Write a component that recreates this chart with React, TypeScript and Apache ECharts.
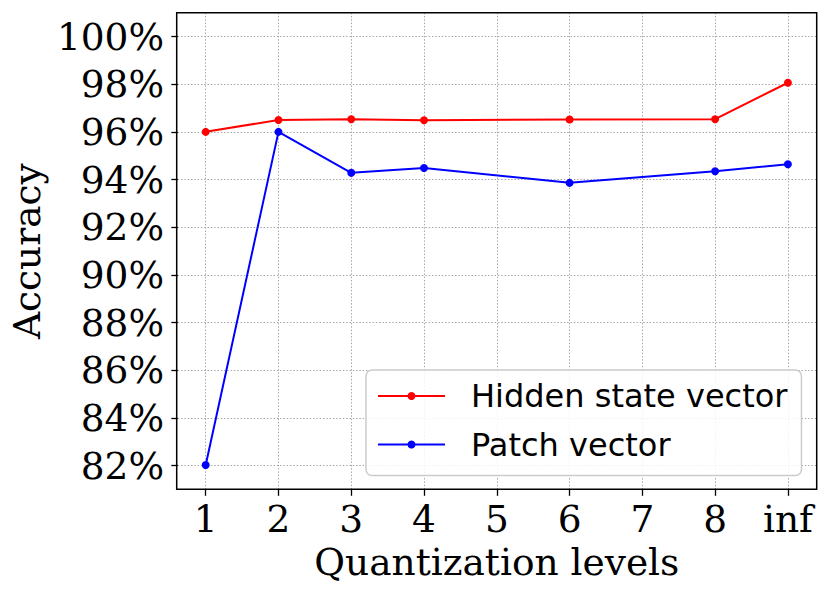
import React, { useEffect, useRef } from "react";
import * as echarts from "echarts";

const xLabels = ["1", "2", "3", "4", "5", "6", "7", "8", "inf"];
const measuredLevels = ["1", "2", "3", "4", "6", "8", "inf"];
const hiddenState = [96.0, 96.5, 96.53, 96.49, 96.52, 96.53, 98.06];
const patchVector = [82.02, 96.0, 94.28, 94.48, 93.86, 94.35, 94.64];
const yTickMin = 82;
const yTickMax = 100;
const yStep = 2;
const yRangeMin = 81;
const yRangeMax = 101;

const serif = "DejaVu Serif";
const serifSize = 37.5;

export default function App() {
  const ref = useRef<HTMLDivElement>(null);
  useEffect(() => {
    if (!ref.current) return;
    const chart = echarts.init(ref.current, null, { renderer: "svg" });
    const pos = measuredLevels.map((l) => xLabels.indexOf(l));
    const grid = {
      color: "#a8a8a8",
      type: [1.5, 1.8] as any,
      width: 1,
    };
    const tick = { lineStyle: { color: "#000", width: 1.3 }, length: 6.5 };
    chart.setOption({
      animation: false,
      backgroundColor: "#fff",
      grid: [
        { left: 205.7, right: 42.1, top: 12.7, bottom: 106.7 },
        { left: 176.7, right: 13.3, top: 36.7, bottom: 130.4 },
      ],
      xAxis: [
        {
          gridIndex: 0,
          type: "value",
          min: 0,
          max: xLabels.length - 1,
          interval: 1,
          position: "bottom",
          axisLine: { show: false },
          axisTick: { show: true, ...tick },
          axisLabel: {
            formatter: (v: number) => xLabels[Math.round(v)] ?? "",
            fontFamily: serif,
            fontSize: serifSize,
            color: "#000",
            margin: 10.5,
          },
          splitLine: { show: true, lineStyle: grid },
          name: "Quantization levels",
          nameLocation: "middle",
          nameGap: 50,
          nameTextStyle: { fontFamily: serif, fontSize: serifSize, color: "#000" },
        },
        {
          gridIndex: 1,
          type: "value",
          min: 0,
          max: 1,
          show: false,
        },
      ],
      yAxis: [
        {
          gridIndex: 0,
          type: "value",
          min: yRangeMin,
          max: yRangeMax,
          show: false,
          splitLine: { show: false },
        },
        {
          gridIndex: 1,
          type: "value",
          min: yTickMin,
          max: yTickMax,
          interval: yStep,
          position: "left",
          axisLine: { show: false },
          axisTick: { show: true, ...tick },
          axisLabel: {
            formatter: "{value}%",
            fontFamily: serif,
            fontSize: serifSize,
            color: "#000",
            margin: 13.7,
          },
          splitLine: { show: true, lineStyle: grid },
          name: "Accuracy",
          nameLocation: "middle",
          nameGap: 131,
          nameTextStyle: { fontFamily: serif, fontSize: serifSize, color: "#000" },
        },
      ],
      legend: {
        orient: "vertical",
        left: 366,
        top: 370,
        padding: [8, 14, 13, 11],
        itemWidth: 67,
        itemHeight: 10,
        itemGap: 12.5,
        backgroundColor: "rgba(255,255,255,0.85)",
        borderColor: "#cccccc",
        borderWidth: 1.5,
        borderRadius: 6,
        textStyle: {
          fontFamily: "DejaVu Sans",
          fontSize: 32,
          color: "#000",
          lineHeight: 36,
          padding: [0, 0, 0, 21],
        },
        data: ["Hidden state vector", "Patch vector"],
      },
      graphic: [
        {
          type: "rect",
          shape: { x: 176.7, y: 12.7, width: 640, height: 476.6 },
          style: { fill: "none", stroke: "#000", lineWidth: 1.5 },
          z: 100,
          silent: true,
        },
      ],
      series: [
        {
          name: "Hidden state vector",
          type: "line",
          xAxisIndex: 0,
          yAxisIndex: 0,
          data: pos.map((p, i) => [p, hiddenState[i]]),
          color: "#ff0000",
          symbol: "circle",
          symbolSize: 8,
          lineStyle: { width: 2 },
        },
        {
          name: "Patch vector",
          type: "line",
          xAxisIndex: 0,
          yAxisIndex: 0,
          data: pos.map((p, i) => [p, patchVector[i]]),
          color: "#0000ff",
          symbol: "circle",
          symbolSize: 8,
          lineStyle: { width: 2 },
        },
      ],
    });
    return () => chart.dispose();
  }, []);
  return (
    <div
      ref={ref}
      style={{ position: "fixed", left: 0, top: 0, width: 830, height: 596 }}
    />
  );
}
